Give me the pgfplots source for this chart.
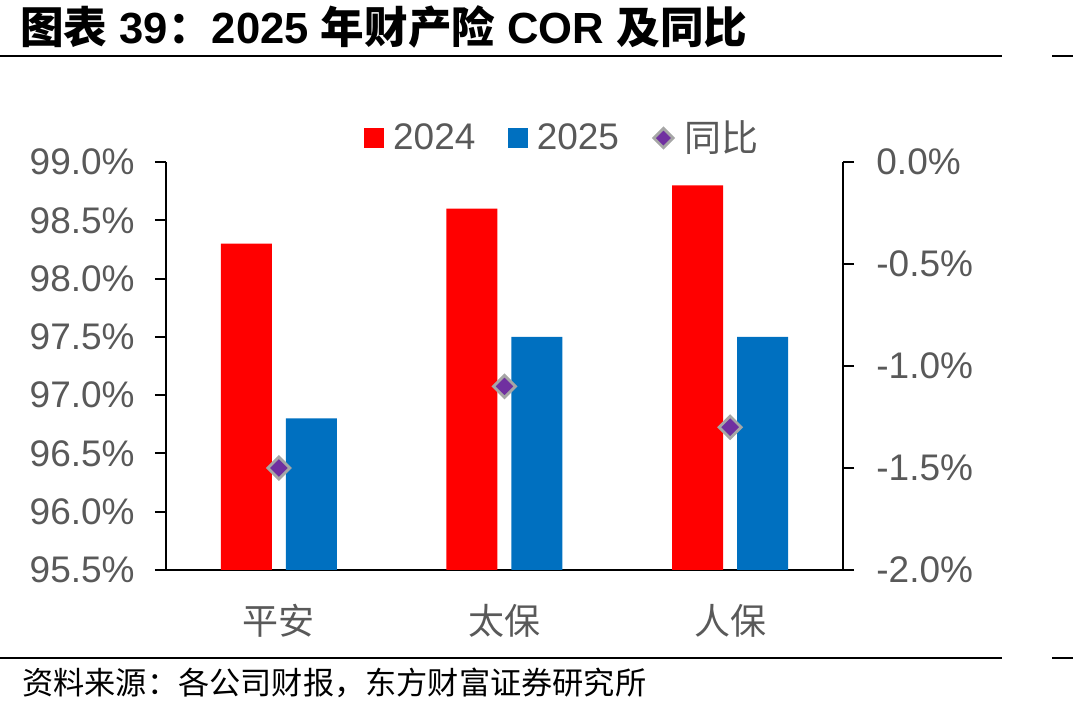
\documentclass[border=0pt]{standalone}
\usepackage{pgfplots}
\pgfplotsset{compat=1.18}
\usepackage{fontspec}
\setmainfont{Liberation Sans}
\newfontfamily\cjk{Noto Sans CJK SC}
\definecolor{tgray}{HTML}{595959}
\definecolor{cred}{HTML}{FF0000}
\definecolor{cblue}{HTML}{0070C0}
\definecolor{cpurple}{HTML}{7030A0}
\definecolor{mgray}{HTML}{A6A6A6}
\pgfplotsset{diamlegend/.style={legend image code/.code={\path (0pt,-4.75pt) (11.5pt,4.75pt); \draw[##1, /tikz/every mark/.append style={scale=0.88}] plot coordinates {(5.75pt,0pt)};}}}
\begin{document}
\begin{tikzpicture}
\useasboundingbox (0pt,0pt) rectangle (536.5pt,356pt);
\node[anchor=west, inner sep=0pt, font=\fontsize{21.8}{21.8}\selectfont\bfseries] at (10pt,342.5pt) {{\cjk 图表} 39{\cjk ：}2025 {\cjk 年财产险} COR {\cjk 及同比}};
\draw[line width=1pt] (0pt,328pt) -- (501pt,328pt);
\draw[line width=1pt] (526pt,328pt) -- (536.5pt,328pt);
\draw[line width=1pt] (0pt,27pt) -- (501pt,27pt);
\draw[line width=1pt] (526pt,27pt) -- (536.5pt,27pt);
\node[anchor=west, inner sep=0pt, font=\cjk\fontsize{15.6}{15.6}\selectfont] at (11pt,14.5pt) {资料来源：各公司财报，东方财富证券研究所};

\begin{axis}[
  at={(83pt,71pt)}, anchor=south west,
  scale only axis, width=338.5pt, height=204pt,
  xmin=-0.5, xmax=2.5, ymin=95.5, ymax=99,
  axis y line*=left, axis x line*=bottom,
  axis line style={line width=1pt, black},
  xtick={0,1,2}, xticklabels={平安,太保,人保},
  xtick style={draw=none},
  xticklabel style={font=\cjk\fontsize{18}{18}\selectfont, text=tgray, anchor=center, yshift=-20pt, inner sep=0pt},
  ytick={95.5,96,96.5,97,97.5,98,98.5,99},
  yticklabels={95.5\%,96.0\%,96.5\%,97.0\%,97.5\%,98.0\%,98.5\%,99.0\%},
  ytick style={line width=1pt, black},
  tick align=outside, major tick length=5.5pt,
  yticklabel style={font=\fontsize{18.5}{18.5}\selectfont, text=tgray, inner sep=0pt, xshift=-10pt},
  ybar, bar width=25.5pt,
]
\addplot[fill=cred, draw=none, bar shift=-16.25pt] coordinates {(0,98.3) (1,98.6) (2,98.8)};
\addplot[fill=cblue, draw=none, bar shift=16.25pt] coordinates {(0,96.8) (1,97.5) (2,97.5)};
\end{axis}

\begin{axis}[
  at={(83pt,71pt)}, anchor=south west,
  scale only axis, width=338.5pt, height=204pt,
  xmin=-0.5, xmax=2.5, ymin=-2, ymax=0,
  axis y line*=right, axis x line=none,
  axis line style={line width=1pt, black},
  ytick={-2,-1.5,-1,-0.5,0},
  yticklabels={-2.0\%,-1.5\%,-1.0\%,-0.5\%,0.0\%},
  ytick style={line width=1pt, black},
  tick align=outside, major tick length=5.5pt,
  yticklabel style={font=\fontsize{18.5}{18.5}\selectfont, text=tgray, inner sep=0pt, xshift=11pt},
  clip=false,
  legend columns=3,
  legend style={at={(0.584,1.0588)}, anchor=center, draw=none, fill=none,
    font=\fontsize{18.5}{18.5}\selectfont, text=tgray,
    nodes={inner sep=0pt},
    /tikz/every odd column/.append style={column sep=4.5pt},
    /tikz/every even column/.append style={column sep=16.25pt}},
]
\addlegendimage{legend image code/.code={\fill[cred] (0pt,-4.75pt) rectangle (9.5pt,4.75pt);}}
\addlegendentry{2024}
\addlegendimage{legend image code/.code={\fill[cblue] (0pt,-4.75pt) rectangle (9.5pt,4.75pt);}}
\addlegendentry{2025}
\addplot[only marks, mark=square*, mark size=3.9pt,
  mark options={rotate=45, fill=cpurple, draw=mgray, line width=1.4pt}, diamlegend]
  coordinates {(0,-1.5) (1,-1.1) (2,-1.3)};
\addlegendentry{{\cjk 同比}}
\end{axis}
\end{tikzpicture}
\end{document}
